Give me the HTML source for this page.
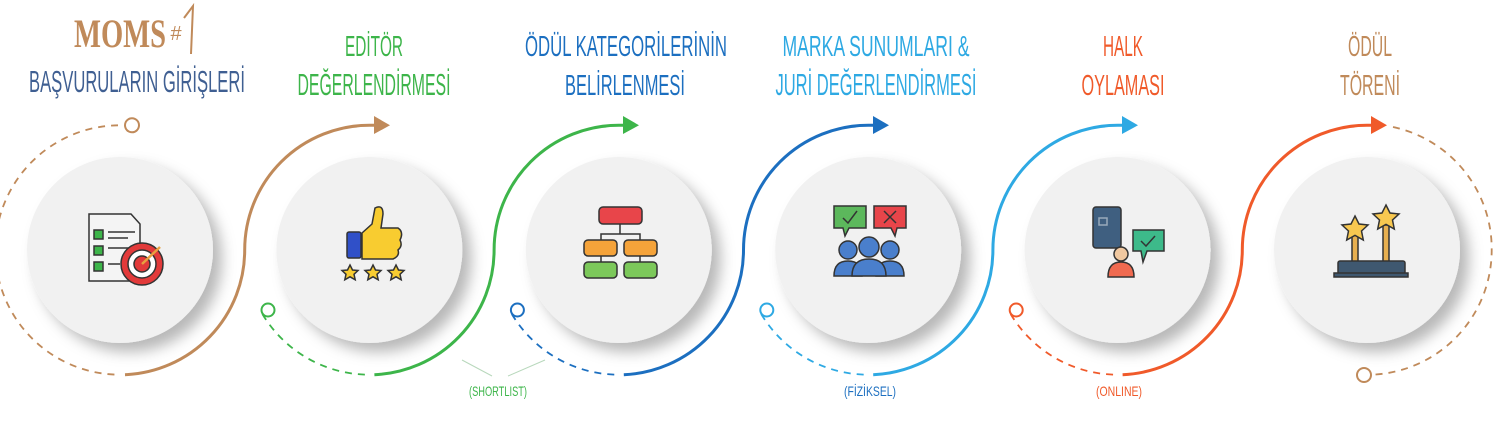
<!DOCTYPE html>
<html><head><meta charset="utf-8"><style>
html,body{margin:0;padding:0;background:#fff;}
svg{display:block}
text{font-family:"Liberation Sans Narrow","Liberation Sans",sans-serif;}
</style></head><body>
<svg width="1497" height="423" viewBox="0 0 1497 423" xmlns="http://www.w3.org/2000/svg">
<defs>
<filter id="sh" x="-30%" y="-30%" width="170%" height="170%">
<feDropShadow dx="9" dy="9" stdDeviation="7" flood-color="#000" flood-opacity="0.28"/>
</filter>
</defs>
<g text-anchor="middle">
<text x="120" y="47" font-size="40" fill="#c08a5a" textLength="92" lengthAdjust="spacingAndGlyphs" style="font-family:'Liberation Serif',serif;font-weight:bold">MOMS</text>
<text x="176" y="40" font-size="20" fill="#c08a5a">#</text>
<path d="M184 18 L193 6 L191 54" stroke="#c08a5a" stroke-width="2" fill="none"/>
<text x="137" y="92" font-size="31" fill="#3f5f92" textLength="216" lengthAdjust="spacingAndGlyphs">BAŞVURULARIN GİRİŞLERİ</text>
<text x="374" y="56" font-size="29" fill="#3db54a" textLength="58" lengthAdjust="spacingAndGlyphs">EDİTÖR</text>
<text x="374" y="95" font-size="31" fill="#3db54a" textLength="153" lengthAdjust="spacingAndGlyphs">DEĞERLENDİRMESİ</text>
<text x="626" y="56" font-size="29" fill="#1c6fc0" textLength="202" lengthAdjust="spacingAndGlyphs">ÖDÜL KATEGORİLERİNİN</text>
<text x="625" y="95" font-size="29" fill="#1c6fc0" textLength="120" lengthAdjust="spacingAndGlyphs">BELİRLENMESİ</text>
<text x="876" y="56" font-size="29" fill="#2ea9e3" textLength="187" lengthAdjust="spacingAndGlyphs">MARKA SUNUMLARI &amp;</text>
<text x="876" y="95" font-size="31" fill="#2ea9e3" textLength="201" lengthAdjust="spacingAndGlyphs">JURİ DEĞERLENDİRMESİ</text>
<text x="1123" y="56" font-size="29" fill="#f05a2a" textLength="40" lengthAdjust="spacingAndGlyphs">HALK</text>
<text x="1123" y="95" font-size="29" fill="#f05a2a" textLength="83" lengthAdjust="spacingAndGlyphs">OYLAMASI</text>
<text x="1370" y="56" font-size="29" fill="#c08a5a" textLength="44" lengthAdjust="spacingAndGlyphs">ÖDÜL</text>
<text x="1370" y="95" font-size="29" fill="#c08a5a" textLength="60" lengthAdjust="spacingAndGlyphs">TÖRENİ</text>
<text x="498" y="396" font-size="14" fill="#3db54a" textLength="58" lengthAdjust="spacingAndGlyphs">(SHORTLIST)</text>
<text x="870" y="396" font-size="14" fill="#1c6fc0" textLength="52" lengthAdjust="spacingAndGlyphs">(FİZİKSEL)</text>
<text x="1119" y="396" font-size="14" fill="#f05a2a" textLength="46" lengthAdjust="spacingAndGlyphs">(ONLINE)</text>
</g>
<path d="M462 360 L492 376 M545 360 L508 376" stroke="#b8d8bc" stroke-width="1"/>
<g fill="#f1f1f1" filter="url(#sh)">
<circle cx="120" cy="250" r="93"/><circle cx="369.4" cy="250" r="93"/><circle cx="618.8" cy="250" r="93"/>
<circle cx="868.2" cy="250" r="93"/><circle cx="1117.6" cy="250" r="93"/><circle cx="1367" cy="250" r="93"/>
</g>
<g fill="none" stroke-width="3">
<path d="M125 374.7 A124.7 124.7 0 0 0 244.7 250 A124.7 124.7 0 0 1 369.4 125.3 L377 125.3" stroke="#c08a5a"/>
<path d="M374.4 374.7 A124.7 124.7 0 0 0 494.1 250 A124.7 124.7 0 0 1 618.8 125.3 L626 125.3" stroke="#3db54a"/>
<path d="M623.8 374.7 A124.7 124.7 0 0 0 743.5 250 A124.7 124.7 0 0 1 868.2 125.3 L876 125.3" stroke="#1c6fc0"/>
<path d="M873.2 374.7 A124.7 124.7 0 0 0 992.9 250 A124.7 124.7 0 0 1 1117.6 125.3 L1125 125.3" stroke="#2ea9e3"/>
<path d="M1122.6 374.7 A124.7 124.7 0 0 0 1242.3 250 A124.7 124.7 0 0 1 1367 125.3 L1374 125.3" stroke="#f05a2a"/>
</g>
<g stroke="none">
<path d="M374 116 L390 125.3 L374 134 Z" fill="#c08a5a"/>
<path d="M623 116 L639 125.3 L623 134 Z" fill="#3db54a"/>
<path d="M873 116 L889 125.3 L873 134 Z" fill="#1c6fc0"/>
<path d="M1122 116 L1138 125.3 L1122 134 Z" fill="#2ea9e3"/>
<path d="M1371 116 L1387 125.3 L1371 134 Z" fill="#f05a2a"/>
</g>
<g fill="none" stroke-width="1.8" stroke-dasharray="7 6">
<path d="M118 125.3 A124.7 124.7 0 0 0 -4.7 250 A124.7 124.7 0 0 0 120 374.7" stroke="#c08a5a"/>
<path d="M262.4 314 A124.7 124.7 0 0 0 369.4 374.7" stroke="#3db54a"/>
<path d="M511.8 314 A124.7 124.7 0 0 0 618.8 374.7" stroke="#1c6fc0"/>
<path d="M761.2 314 A124.7 124.7 0 0 0 868.2 374.7" stroke="#2ea9e3"/>
<path d="M1010.6 314 A124.7 124.7 0 0 0 1117.6 374.7" stroke="#f05a2a"/>
<path d="M1393 127 A124.7 124.7 0 0 1 1491.7 250 A124.7 124.7 0 0 1 1372 374.7" stroke="#c08a5a"/>
</g>
<g fill="#fff" stroke-width="2">
<circle cx="132" cy="125.3" r="7" stroke="#c08a5a"/>
<circle cx="268" cy="310" r="6.5" stroke="#3db54a"/>
<circle cx="517.4" cy="310" r="6.5" stroke="#1c6fc0"/>
<circle cx="766.8" cy="310" r="6.5" stroke="#2ea9e3"/>
<circle cx="1016.2" cy="310" r="6.5" stroke="#f05a2a"/>
<circle cx="1364" cy="375" r="7" stroke="#c08a5a"/>
</g>
<g stroke="#333" stroke-width="1.5">
<path d="M89 214 L131 214 L140 224 L140 281 L89 281 Z" fill="#f4f4f4"/>
<rect x="94" y="230" width="9" height="9" fill="#3db54a"/>
<rect x="94" y="246" width="9" height="9" fill="#3db54a"/>
<rect x="94" y="262" width="9" height="9" fill="#3db54a"/>
<path d="M108 232 H135 M108 238 H128 M108 248 H130 M108 264 H120" fill="none"/>
<circle cx="142" cy="264" r="21" fill="#e23a3a"/>
<circle cx="142" cy="264" r="14" fill="#fff"/>
<circle cx="142" cy="264" r="8" fill="#e23a3a"/>
<path d="M142 264 L160 247" stroke="#e8a040" stroke-width="2.5"/>
</g>
<g stroke="#333" stroke-width="1.5">
<rect x="347" y="232" width="14" height="26" fill="#3050c8" rx="2"/>
<path d="M362 233 L372 224 L375 208 Q383 204 383 214 L381 228 L398 228 Q404 232 400 240 Q403 246 398 250 Q400 256 393 259 L362 259 Z" fill="#f8cc30"/>
<g fill="#f8cc30">
<path d="M350 265 l2.5 5 5.5 .5 -4 3.8 1.2 5.5 -5.2 -3 -5.2 3 1.2 -5.5 -4 -3.8 5.5 -.5z"/>
<path d="M373 265 l2.5 5 5.5 .5 -4 3.8 1.2 5.5 -5.2 -3 -5.2 3 1.2 -5.5 -4 -3.8 5.5 -.5z"/>
<path d="M396 265 l2.5 5 5.5 .5 -4 3.8 1.2 5.5 -5.2 -3 -5.2 3 1.2 -5.5 -4 -3.8 5.5 -.5z"/>
</g>
</g>
<g stroke="#333" stroke-width="1.5">
<path d="M620 224 V234 M601 244 V234 H640 V244 M601 256 V262 M640 256 V262" fill="none"/>
<rect x="599" y="207" width="43" height="17" rx="4" fill="#e8454a"/>
<rect x="584" y="240" width="33" height="16" rx="4" fill="#f5a33a"/>
<rect x="624" y="240" width="33" height="16" rx="4" fill="#f5a33a"/>
<rect x="584" y="262" width="33" height="16" rx="4" fill="#7cc85a"/>
<rect x="624" y="262" width="33" height="16" rx="4" fill="#7cc85a"/>
</g>
<g stroke="#333" stroke-width="1.5">
<path d="M834 206 H866 V228 H849 L845 236 L843 228 H834 Z" fill="#5cb85c"/>
<path d="M874 206 H906 V228 H897 L895 236 L891 228 H874 Z" fill="#e8454a"/>
<path d="M843 218 L848 223 L857 211 M884 211 L896 223 M896 211 L884 223" fill="none"/>
<circle cx="848" cy="250" r="9" fill="#4a7fcc"/><circle cx="890" cy="250" r="9" fill="#4a7fcc"/>
<path d="M834 276 Q834 261 848 261 Q862 261 862 276 Z" fill="#4a7fcc"/>
<path d="M876 276 Q876 261 890 261 Q904 261 904 276 Z" fill="#4a7fcc"/>
<circle cx="869" cy="247" r="10" fill="#4a7fcc"/>
<path d="M852 276 Q852 259 869 259 Q886 259 886 276 Z" fill="#4a7fcc"/>
</g>
<g stroke="#333" stroke-width="1.5">
<rect x="1093" y="207" width="28" height="41" rx="3" fill="#3f5f80"/>
<rect x="1099" y="218" width="8" height="7" fill="none" stroke="#9ab"/>
<path d="M1133 230 H1164 V251 H1147 L1143 262 L1141 251 H1133 Z" fill="#3dba8a"/>
<path d="M1141 241 L1146 246 L1155 236" fill="none"/>
<circle cx="1121" cy="254" r="7" fill="#f0c8a0"/>
<path d="M1108 277 Q1108 262 1121 262 Q1134 262 1134 277 Z" fill="#f06a50"/>
</g>
<g stroke="#333" stroke-width="1.5">
<rect x="1352" y="235" width="6" height="28" fill="#e8b050"/>
<rect x="1383" y="225" width="6" height="38" fill="#e8b050"/>
<path d="M1355 216 l4 8 9 1 -6.5 6 1.8 9 -8.3-4.6 -8.3 4.6 1.8-9 -6.5-6 9-1z" fill="#f8c850"/>
<path d="M1386 205 l4 8 9 1 -6.5 6 1.8 9 -8.3-4.6 -8.3 4.6 1.8-9 -6.5-6 9-1z" fill="#f8c850"/>
<rect x="1338" y="261" width="67" height="13" rx="2" fill="#3f5870"/>
<rect x="1334" y="273" width="74" height="4" fill="#3f5870"/>
</g>
</svg>
</body></html>
